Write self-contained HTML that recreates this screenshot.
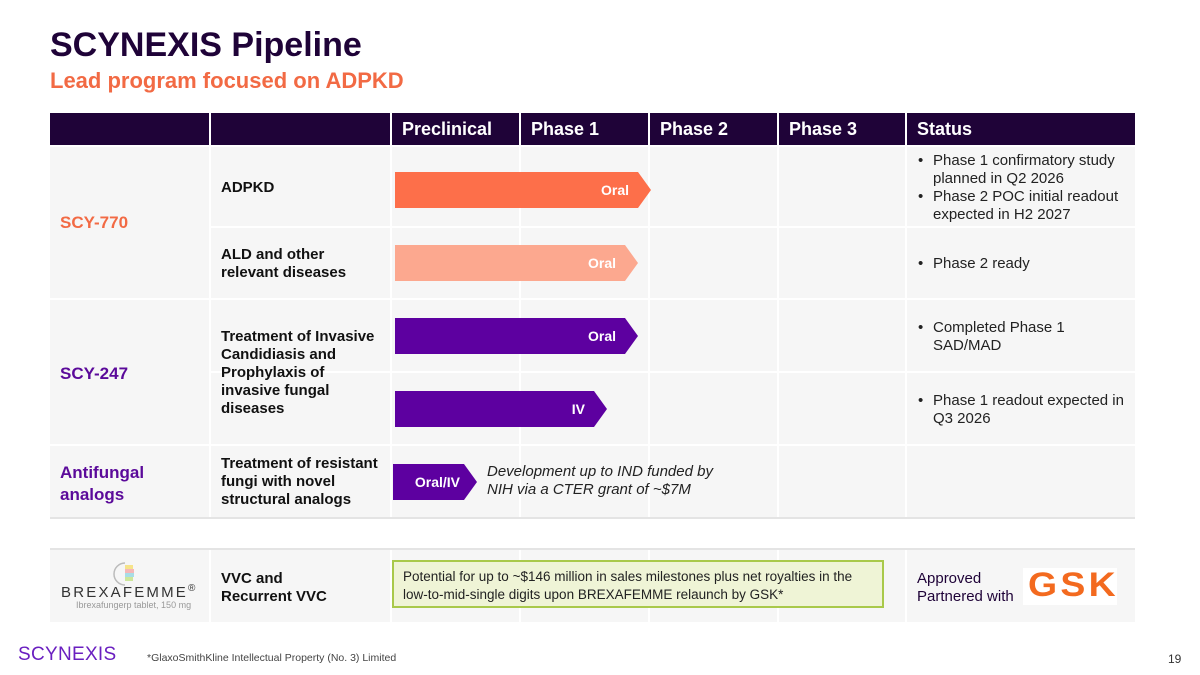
<!DOCTYPE html>
<html><head><meta charset="utf-8"><style>
*{margin:0;padding:0;box-sizing:border-box}
body{width:1200px;height:675px;background:#fff;position:relative;overflow:hidden;font-family:"Liberation Sans",Arial,sans-serif}
.a{position:absolute}
.cell{position:absolute;background:#f6f6f6}
.hd{position:absolute;top:113px;height:32px;background:#1f0338;color:#fff;font-weight:bold;font-size:18px;line-height:32px;padding-left:10px}
.lbl{position:absolute;font-weight:bold;font-size:15px;color:#111;line-height:18px}
.st{position:absolute;font-size:15px;color:#222;line-height:18px}
.st div{position:relative;padding-left:18px}
.st div:before{content:"•";position:absolute;left:3px}
.bar{position:absolute;height:36px;color:#fff;font-weight:bold;font-size:14px;line-height:36px;text-align:right;padding-right:22px;clip-path:polygon(0 0,calc(100% - 13px) 0,100% 50%,calc(100% - 13px) 100%,0 100%)}
</style></head><body>
<div class="a" style="left:50px;top:26px;font-size:34px;font-weight:bold;color:#1f0338">SCYNEXIS Pipeline</div>
<div class="a" style="left:50px;top:68px;font-size:22px;font-weight:bold;color:#f26a44">Lead program focused on ADPKD</div>

<div class="hd" style="left:50px;width:159px"></div>
<div class="hd" style="left:211px;width:179px"></div>
<div class="hd" style="left:392px;width:127px">Preclinical</div>
<div class="hd" style="left:521px;width:127px">Phase 1</div>
<div class="hd" style="left:650px;width:127px">Phase 2</div>
<div class="hd" style="left:779px;width:126px">Phase 3</div>
<div class="hd" style="left:907px;width:228px">Status</div>

<svg class="a" style="left:0;top:0" width="1200" height="675">
<g fill="#f6f6f6">
<rect x="50" y="147" width="159" height="151"/>
<rect x="50" y="300" width="159" height="144"/>
<rect x="50" y="446" width="159" height="71"/>
<rect x="50" y="550" width="159" height="72"/>
</g>
</svg>
<div id="grid"></div>
<script>
var cols=[[211,179],[392,127],[521,127],[650,127],[779,126],[907,228]];
var rows=[[147,79],[228,70],[300,71],[373,71],[446,71],[550,72]];
var h='';rows.forEach(function(r){cols.forEach(function(c){h+='<div class="cell" style="left:'+c[0]+'px;top:'+r[0]+'px;width:'+c[1]+'px;height:'+r[1]+'px"></div>';});});
document.getElementById('grid').innerHTML=h;
</script>
<div class="a" style="left:50px;top:517px;width:1085px;height:2px;background:#e4e4e4"></div>
<div class="a" style="left:50px;top:548px;width:1085px;height:2px;background:#e4e4e4"></div>

<div class="a" style="left:60px;top:213px;font-size:17px;font-weight:bold;color:#f26a44">SCY-770</div>
<div class="a" style="left:60px;top:364px;font-size:17px;font-weight:bold;color:#5b0a9a">SCY-247</div>
<div class="a" style="left:60px;top:462px;font-size:17px;font-weight:bold;color:#5b0a9a;line-height:22px">Antifungal<br>analogs</div>

<div class="lbl" style="left:221px;top:179px">ADPKD</div>
<div class="lbl" style="left:221px;top:246px">ALD and other<br>relevant diseases</div>
<div class="lbl" style="left:221px;top:328px">Treatment of Invasive<br>Candidiasis and<br>Prophylaxis of<br>invasive fungal<br>diseases</div>
<div class="lbl" style="left:221px;top:455px">Treatment of resistant<br>fungi with novel<br>structural analogs</div>
<div class="lbl" style="left:221px;top:570px">VVC and<br>Recurrent VVC</div>

<div class="bar" style="left:395px;top:172px;width:256px;background:#fd6f4a">Oral</div>
<div class="bar" style="left:395px;top:245px;width:243px;background:#fca88f">Oral</div>
<div class="bar" style="left:395px;top:318px;width:243px;background:#5d00a0">Oral</div>
<div class="bar" style="left:395px;top:391px;width:212px;background:#5d00a0">IV</div>
<div class="bar" style="left:393px;top:464px;width:84px;background:#5d00a0;padding-right:17px">Oral/IV</div>
<div class="a" style="left:487px;top:463px;font-size:15px;font-style:italic;color:#222;line-height:18px">Development up to IND funded by<br>NIH via a CTER grant of ~$7M</div>

<div class="st" style="left:915px;top:152px;width:215px"><div>Phase 1 confirmatory study planned in Q2 2026</div><div>Phase 2 POC initial readout expected in H2 2027</div></div>
<div class="st" style="left:915px;top:255px;width:215px"><div>Phase 2 ready</div></div>
<div class="st" style="left:915px;top:319px;width:215px"><div>Completed Phase 1<br>SAD/MAD</div></div>
<div class="st" style="left:915px;top:392px;width:220px"><div>Phase 1 readout expected in Q3 2026</div></div>

<div class="a" style="left:392px;top:560px;width:492px;height:48px;background:#eff4d6;border:2px solid #a9c94a;font-size:13.5px;color:#222;line-height:18px;padding:6px 0 0 9px">Potential for up to ~$146 million in sales milestones plus net royalties in the<br>low-to-mid-single digits upon BREXAFEMME relaunch by GSK*</div>
<div class="a" style="left:917px;top:570px;font-size:15px;color:#1f0338;line-height:18px">Approved<br>Partnered with</div>
<div class="a" style="left:1023px;top:568px;width:94px;height:37px;background:#fff"></div>
<div class="a" style="left:1028px;top:566px;font-size:34px;font-weight:bold;color:#f36a1f;letter-spacing:3px;transform:scaleX(1.1);transform-origin:left">GSK</div>

<svg class="a" style="left:112px;top:561px" width="26" height="26"><path d="M13 2a11 11 0 0 0 0 22" fill="none" stroke="#bbb" stroke-width="1.5"/><rect x="13" y="4" width="8" height="4" fill="#f6e38a"/><rect x="13" y="8" width="9" height="4" fill="#f5b7b7"/><rect x="13" y="12" width="9" height="4" fill="#a8dde6"/><rect x="13" y="16" width="8" height="4" fill="#cde79a"/></svg>
<div class="a" style="left:61px;top:583px;font-size:15px;letter-spacing:2.2px;color:#333">BREXAFEMME<sup style="font-size:10px">®</sup></div>
<div class="a" style="left:76px;top:600px;font-size:9px;color:#999">Ibrexafungerp tablet, 150 mg</div>

<div class="a" style="left:18px;top:644px;font-size:19px;color:#6a1fc0;letter-spacing:0.3px">SCYNEXIS</div>
<div class="a" style="left:147px;top:652px;font-size:10.5px;color:#444">*GlaxoSmithKline Intellectual Property (No. 3) Limited</div>
<div class="a" style="left:1168px;top:652px;font-size:12px;color:#333">19</div>
</body></html>
